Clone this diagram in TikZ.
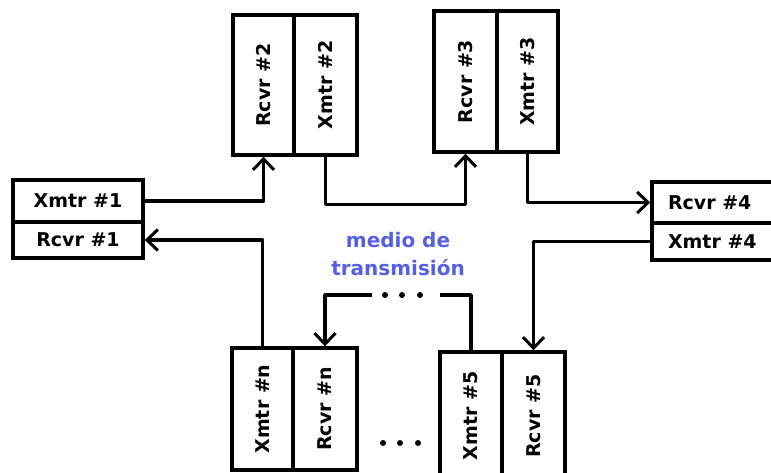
\documentclass[tikz,border=0pt]{standalone}
\usepackage{fontspec}
\setmainfont{DejaVu Sans}
\usetikzlibrary{arrows.meta}
\definecolor{mediumblue}{RGB}{85,95,225}
\begin{document}
\begin{tikzpicture}[x=1pt,y=-1pt,
  cell/.style={draw, line width=3.4pt, inner sep=0pt,
    font=\bfseries\fontsize{19}{19}\selectfont},
  link/.style={line width=3.4pt, line join=round},
  feed/.style={link, -{Straight Barb[length=11pt,width=21pt,line width=3pt]}},
  pip/.style={circle, fill, inner sep=0pt, minimum size=6pt}
]
\useasboundingbox (0,0) rectangle (771,473);

% station 1 (left)
\node[cell, minimum width=130pt, minimum height=42pt] (x1) at (78,201) {Xmtr \#1};
\node[cell, minimum width=130pt, minimum height=36pt] (r1) at (78,240) {Rcvr \#1};

% station 2 (top)
\node[cell, minimum width=61pt, minimum height=140pt] (r2) at (263.5,85) {\rotatebox{90}{Rcvr \#2}};
\node[cell, minimum width=63pt, minimum height=140pt] (x2) at (325.5,85) {\rotatebox{90}{Xmtr \#2}};

% station 3 (top)
\node[cell, minimum width=63pt, minimum height=141pt] (r3) at (465.5,81.5) {\rotatebox{90}{Rcvr \#3}};
\node[cell, minimum width=61pt, minimum height=141pt] (x3) at (527.5,81.5) {\rotatebox{90}{Xmtr \#3}};

% station 4 (right)
\node[cell, minimum width=124pt, minimum height=41pt] (r4) at (714,202.5) {\makebox[92pt][l]{Rcvr \#4}};
\node[cell, minimum width=124pt, minimum height=37pt] (x4) at (714,241.5) {\makebox[92pt][l]{Xmtr \#4}};

% station n (bottom)
\node[cell, minimum width=61pt, minimum height=122pt] (xn) at (262.5,409) {\rotatebox{90}{Xmtr \#n}};
\node[cell, minimum width=64pt, minimum height=122pt] (rn) at (325,409) {\rotatebox{90}{Rcvr \#n}};

% station 5 (bottom)
\node[cell, minimum width=62pt, minimum height=128pt] (x5) at (471,416) {\rotatebox{90}{Xmtr \#5}};
\node[cell, minimum width=63pt, minimum height=128pt] (r5) at (533.5,416) {\rotatebox{90}{Rcvr \#5}};

% medium label
\node[text=mediumblue, align=center, font=\bfseries\fontsize{20}{28}\selectfont] (med) at (398,254) {medio de\\transmisión};

% ring links
\draw[feed] (x1.east) -| (r2.south);
\draw[feed] (x2.south) -- ++(0,48) -| (r3.south);
\draw[feed] (x3.south) |- (r4.west);
\draw[feed] (x4.west) -| (r5.north);
\coordinate (g1) at (440,295);
\coordinate (g2) at (372,295);
\draw[link] (x5.north) |- (g1);
\draw[feed] (g2) -| (rn.north);
\draw[feed] (xn.north) |- (r1.east);

% omitted stations
\node[pip] (d1) at (385,295) {};
\node[pip] (d2) at (402,295) {};
\node[pip] (d3) at (420,295) {};
\node[pip] (e1) at (383,443) {};
\node[pip] (e2) at (400,443) {};
\node[pip] (e3) at (418,443) {};
\end{tikzpicture}
\end{document}
